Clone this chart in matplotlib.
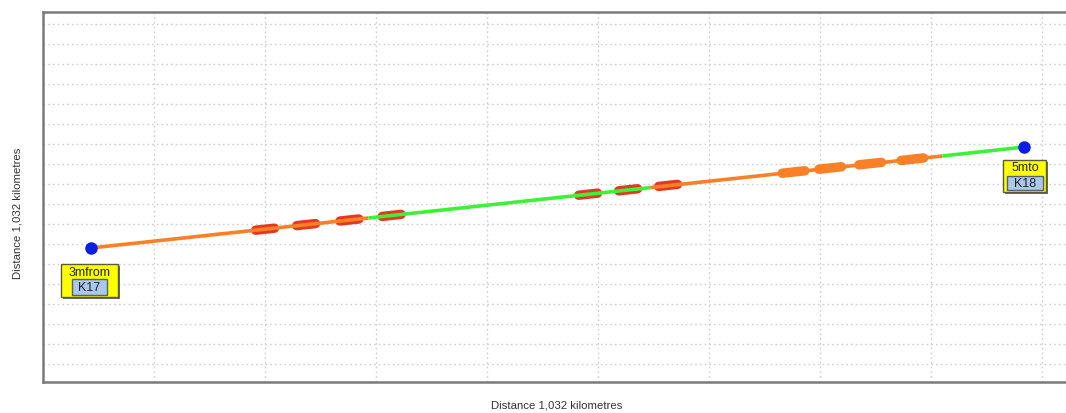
import numpy as np
import matplotlib
matplotlib.use("Agg")
import matplotlib.pyplot as plt
import matplotlib.transforms as mtransforms
from matplotlib.patches import Rectangle

# ---- data (grid units: x one vertical grid step, y one horizontal grid step) ----
route_x = [0.43, 2.93, 5.47, 8.10, 8.84]
route_y = [6.80, 8.30, 9.82, 11.40, 11.85]
route_colors = ["#f98026", "#3ef03a", "#f98026", "#3ef03a"]

red_mark_x = [2.00, 2.37, 2.76, 3.14, 4.91, 5.27, 5.63]
red_mark_y = [7.74, 7.97, 8.20, 8.43, 9.49, 9.71, 9.93]
orange_mark_x = [6.76, 7.09, 7.45, 7.83]
orange_mark_y = [10.60, 10.80, 11.02, 11.24]

end_labels_top = ["3mfrom", "5mto"]
end_labels_bottom = ["K17", "K18"]

x_label = "Distance 1,032 kilometres"
y_label = "Distance 1,032 kilometres"

# ---- figure ----
W, H, DPI = 1066, 414, 100
fig = plt.figure(figsize=(W / DPI, H / DPI), dpi=DPI)
plt.rcParams["font.family"] = ["Liberation Sans", "DejaVu Sans"]
ax = fig.add_axes([43 / W, 31 / H, (1070 - 43) / W, 370 / H])
ax.set_xlim(0, 9.25)
ax.set_ylim(0.1, 18.6)
ax.set_xticks(np.arange(1, 10))
ax.set_yticks(np.arange(1, 19))
ax.tick_params(length=0, labelbottom=False, labelleft=False)
ax.grid(True, color="#cfcfcf", linestyle=(0, (1.2, 2.2)), linewidth=1.0)
for s in ["top", "left", "bottom"]:
    ax.spines[s].set_color("#7a7a7a")
    ax.spines[s].set_linewidth(1.8)
ax.spines["right"].set_visible(False)

# marks (drawn below the route line)
half = 0.085
slope = (route_y[-1] - route_y[0]) / (route_x[-1] - route_x[0])
for mx, my in zip(red_mark_x, red_mark_y):
    ax.plot([mx - half, mx + half], [my - half * slope, my + half * slope],
            color="#e23a22", linewidth=6.8, solid_capstyle="round", zorder=3)
for mx, my in zip(orange_mark_x, orange_mark_y):
    ax.plot([mx - half * 1.2, mx + half * 1.2],
            [my - half * 1.2 * slope, my + half * 1.2 * slope],
            color="#f98026", linewidth=6.8, solid_capstyle="round", zorder=3)

# route
for i, c in enumerate(route_colors):
    ax.plot(route_x[i:i + 2], route_y[i:i + 2], color=c, linewidth=2.6,
            solid_capstyle="butt", zorder=4)

# end points
ax.plot([route_x[0], route_x[-1]], [route_y[0], route_y[-1]], "o",
        color="#0c1ee6", markersize=8, zorder=6)

# end labels (boxes in pixel offsets from the end points)
label_specs = [
    # outer (x0, x1, ytop, ybot), inner (x0, x1, ytop, ybot), text1 dy, text2 dy
    ((-30, 27, 16, 49), (-19, 16, 31, 47), 24, 39),
    ((-21, 22, 13, 45), (-17, 19, 29, 43), 20, 36),
]
pts = [(route_x[0], route_y[0]), (route_x[-1], route_y[-1])]
for (px, py), t1, t2, spec in zip(pts, end_labels_top, end_labels_bottom, label_specs):
    tr = mtransforms.Affine2D() + mtransforms.ScaledTranslation(px, py, ax.transData)
    (ox0, ox1, oyt, oyb), (ix0, ix1, iyt, iyb), d1, d2 = spec
    ax.add_patch(Rectangle((ox0 + 2, -oyb - 2), ox1 - ox0, oyb - oyt,
                           transform=tr, facecolor="#6a6a6a", edgecolor="none",
                           zorder=7, clip_on=False))
    ax.add_patch(Rectangle((ox0, -oyb), ox1 - ox0, oyb - oyt, transform=tr,
                           facecolor="#ffff00", edgecolor="#5a5a3a", linewidth=1.0,
                           zorder=8, clip_on=False))
    ax.add_patch(Rectangle((ix0, -iyb), ix1 - ix0, iyb - iyt, transform=tr,
                           facecolor="#a9c8ec", edgecolor="#556070", linewidth=1.0,
                           zorder=9, clip_on=False))
    cx = (ox0 + ox1) / 2
    ax.text(cx, -d1, t1, transform=tr, ha="center", va="center", fontsize=9,
            color="#222222", zorder=10)
    ax.text((ix0 + ix1) / 2, -d2, t2, transform=tr, ha="center", va="center",
            fontsize=9, color="#222222", zorder=10)

fig.text(557 / W, 1 - 406 / H, x_label, ha="center", va="center",
         fontsize=8.2, color="#333333")
fig.text(18 / W, 1 - 213 / H, y_label, ha="center", va="center",
         fontsize=8.2, color="#333333", rotation=90)

fig.savefig("out.png", dpi=DPI, facecolor="white")
